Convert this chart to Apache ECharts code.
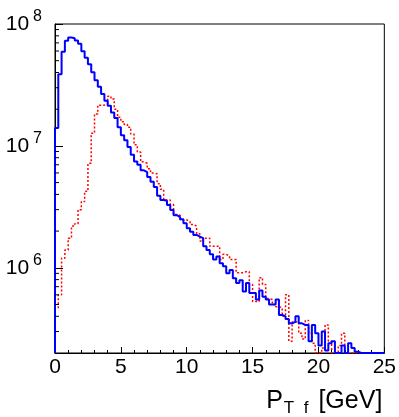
<!DOCTYPE html>
<html>
<head>
<meta charset="utf-8">
<script src="https://cdn.jsdelivr.net/npm/echarts@6/dist/echarts.min.js"></script>
<style>
html, body { margin: 0; padding: 0; background: #fff; }
#main { width: 399px; height: 417px; }
</style>
</head>
<body>
<div id="main"></div>
<script>
// histogram bins: 0.25 GeV wide, 0..25 GeV
var binWidth = 0.25;
var floorValue = 2e5; // bottom of the plot

var blueCounts = [
    1.40e7, 3.87e7, 5.93e7, 7.28e7, 7.74e7, 7.65e7, 7.33e7, 6.88e7, 5.99e7, 5.29e7,
    4.67e7, 4.02e7, 3.46e7, 3.05e7, 2.66e7, 2.35e7, 2.13e7, 1.88e7, 1.69e7, 1.42e7,
    1.22e7, 1.11e7, 9.8e6, 8.46e6, 7.46e6, 7.0e6, 6.3e6, 6.1e6, 5.57e6, 5.07e6,
    4.6e6, 3.9e6, 3.6e6, 3.55e6, 3.27e6, 2.98e6, 2.7e6, 2.6e6, 2.5e6, 2.32e6,
    2.11e6, 1.98e6, 1.86e6, 1.8e6, 1.75e6, 1.5e6, 1.4e6, 1.29e6, 1.17e6, 1.24e6,
    1.09e6, 1.03e6, 9.0e5, 9.6e5, 8.2e5, 7.5e5, 7.9e5, 6.4e5, 7.5e5, 6.2e5,
    6.2e5, 5.5e5, 6.5e5, 5.8e5, 5.5e5, 5.0e5, 5.0e5, 5.5e5, 4.1e5, 4.0e5,
    3.8e5, 3.5e5, 3.6e5, 4.0e5, 3.5e5, 3.4e5, 3.4e5, 2.5e5, 3.4e5, 2.9e5,
    2.3e5, 3.0e5, 2.1e5, 2.4e5, 2.5e5, 2e5, 2e5, 2.3e5, 2e5, 2.4e5,
    2.2e5, 2.05e5, 2e5, 2e5, 2e5, 2e5, 2e5, 2e5, 2e5, 2e5
];

var redCounts = [
    4.7e5, 6.0e5, 1.2e6, 1.4e6, 1.75e6, 2.2e6, 2.3e6, 3.0e6, 3.5e6, 4.25e6,
    7.2e6, 1.27e7, 1.83e7, 2.16e7, 2.16e7, 2.2e7, 2.55e7, 2.42e7, 2.0e7, 1.72e7,
    1.58e7, 1.5e7, 1.42e7, 1.25e7, 1.02e7, 8.9e6, 7.4e6, 7.2e6, 6.5e6, 6.0e6,
    5.9e6, 4.9e6, 4.4e6, 3.6e6, 3.6e6, 3.3e6, 2.74e6, 2.7e6, 2.47e6, 2.47e6,
    2.4e6, 2.27e6, 2.2e6, 1.9e6, 1.66e6, 1.75e6, 1.75e6, 1.5e6, 1.5e6, 1.5e6,
    1.17e6, 1.29e6, 1.25e6, 1.17e6, 1.17e6, 9.1e5, 9.1e5, 9.3e5, 9.3e5, 7.3e5,
    5.3e5, 5.3e5, 8.3e5, 7.3e5, 5.6e5, 5.5e5, 5.0e5, 4.8e5, 4.7e5, 4.0e5,
    6.0e5, 2.5e5, 3.6e5, 3.6e5, 2.9e5, 2.6e5, 3.7e5, 2.9e5, 2.4e5, 2e5,
    2e5, 2.2e5, 3.4e5, 2.5e5, 2e5, 2e5, 2.3e5, 2.9e5, 2e5, 2e5,
    2e5, 2e5, 2e5, 2e5, 2e5, 2e5, 2e5, 2e5, 2e5, 2e5
];

var xTickLabels = [0, 5, 10, 15, 20, 25];
var yMinorTicks = [3e5, 4e5, 5e5, 6e5, 7e5, 8e5, 9e5,
    2e6, 3e6, 4e6, 5e6, 6e6, 7e6, 8e6, 9e6,
    2e7, 3e7, 4e7, 5e7, 6e7, 7e7, 8e7, 9e7];

var fontName = 'Liberation Sans, Arial, Helvetica, sans-serif';

// points at bin low edges, stepped so each value holds across its bin
function toSteps(counts) {
    var pts = [[0, floorValue]];
    for (var i = 0; i < counts.length; i++) {
        pts.push([i * binWidth, counts[i]]);
    }
    pts.push([counts.length * binWidth, counts[counts.length - 1]]);
    return pts;
}

var chart = echarts.init(document.getElementById('main'));

var option = {
    animation: false,
    backgroundColor: '#fff',
    grid: {
        left: 55, right: 14, top: 24, bottom: 61,
        show: true, borderColor: '#000', borderWidth: 1,
        backgroundColor: 'transparent'
    },
    xAxis: {
        type: 'value',
        min: 0, max: 25, interval: 5,
        axisLine: { lineStyle: { color: '#000', width: 1 } },
        axisTick: { inside: true, length: 6, lineStyle: { color: '#000' } },
        minorTick: { show: true, splitNumber: 5, length: 3, lineStyle: { color: '#000' } },
        splitLine: { show: false },
        axisLabel: {
            color: '#000', fontSize: 21, fontFamily: fontName, margin: 4,
            formatter: function (v) { return xTickLabels.indexOf(v) >= 0 ? String(v) : ''; }
        },
        name: '{p|P}{s|T  f}{g|[GeV]}',
        nameLocation: 'end',
        nameGap: -2,
        nameTextStyle: {
            align: 'right', verticalAlign: 'top', padding: [33, 0, 0, 0],
            color: '#000', fontFamily: fontName,
            rich: {
                p: { fontSize: 25, fontFamily: fontName, color: '#000' },
                s: { fontSize: 17, fontFamily: fontName, color: '#000', padding: [14, 6, 0, 1] },
                g: { fontSize: 25, fontFamily: fontName, color: '#000', padding: [0, 0, 0, 4] }
            }
        }
    },
    yAxis: {
        type: 'log',
        logBase: 10,
        min: floorValue, max: 1e8,
        axisLine: { show: true, lineStyle: { color: '#000', width: 1 } },
        axisTick: { inside: true, length: 8, lineStyle: { color: '#000' } },
        splitLine: { show: false },
        axisLabel: {
            margin: 13,
            formatter: function (v) {
                var e = Math.log10(v);
                var r = Math.round(e);
                if (Math.abs(e - r) > 1e-6) return '';
                return '{b|10}{e|' + r + '}';
            },
            rich: {
                b: { fontSize: 21, fontFamily: fontName, color: '#000' },
                e: { fontSize: 16, fontFamily: fontName, color: '#000', padding: [0, 0, 15, 4] }
            }
        }
    },
    series: [
        {
            type: 'custom',
            silent: true,
            z: 5,
            data: yMinorTicks.map(function (v) { return [0, v]; }),
            encode: { x: 0, y: 1 },
            renderItem: function (params, api) {
                var p = api.coord([api.value(0), api.value(1)]);
                return {
                    type: 'line',
                    shape: { x1: p[0], y1: p[1], x2: p[0] + 4, y2: p[1] },
                    style: { stroke: '#000', lineWidth: 1 }
                };
            }
        },
        {
            name: 'red',
            type: 'line',
            step: 'end',
            showSymbol: false,
            data: toSteps(redCounts),
            lineStyle: { color: '#ff0000', width: 1.5, type: [2, 2] },
            z: 3
        },
        {
            name: 'blue',
            type: 'line',
            step: 'end',
            showSymbol: false,
            data: toSteps(blueCounts),
            lineStyle: { color: '#0000ff', width: 2 },
            z: 4
        }
    ]
};

chart.setOption(option);
</script>
</body>
</html>
